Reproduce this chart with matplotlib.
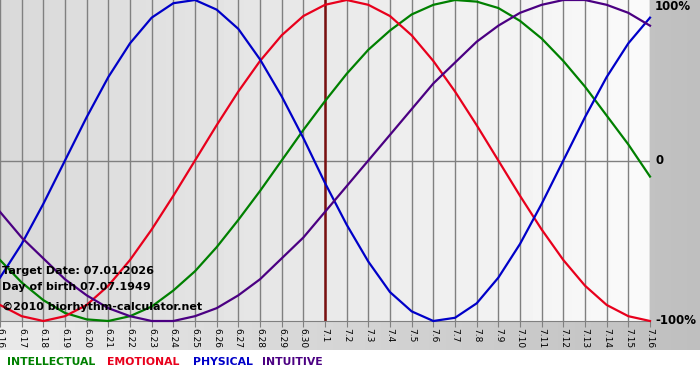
import numpy as np
import matplotlib
matplotlib.use("Agg")
import matplotlib.pyplot as plt

# day labels along the bottom axis
dates = ["6.16", "6.17", "6.18", "6.19", "6.20", "6.21", "6.22", "6.23", "6.24",
         "6.25", "6.26", "6.27", "6.28", "6.29", "6.30", "7.1", "7.2", "7.3",
         "7.4", "7.5", "7.6", "7.7", "7.8", "7.9", "7.10", "7.11", "7.12",
         "7.13", "7.14", "7.15", "7.16"]
target_day = "7.1"

# values per day (-1 .. 1)
intellectual = [-0.62, -0.76, -0.87, -0.95, -0.99, -1.00, -0.97, -0.91, -0.81,
                -0.69, -0.54, -0.37, -0.19, 0.00, 0.19, 0.37, 0.54, 0.69,
                0.81, 0.91, 0.97, 1.00, 0.99, 0.95, 0.87, 0.76, 0.62,
                0.46, 0.28, 0.10, -0.10]
emotional = [-0.90, -0.97, -1.00, -0.97, -0.90, -0.78, -0.62, -0.43, -0.22,
             0.00, 0.22, 0.43, 0.62, 0.78, 0.90, 0.97, 1.00, 0.97,
             0.90, 0.78, 0.62, 0.43, 0.22, 0.00, -0.22, -0.43, -0.62,
             -0.78, -0.90, -0.97, -1.00]
physical = [-0.73, -0.52, -0.27, 0.00, 0.27, 0.52, 0.73, 0.89, 0.98,
            1.00, 0.94, 0.82, 0.63, 0.40, 0.14, -0.14, -0.40, -0.63,
            -0.82, -0.94, -1.00, -0.98, -0.89, -0.73, -0.52, -0.27, 0.00,
            0.27, 0.52, 0.73, 0.89]
intuitive = [-0.32, -0.48, -0.61, -0.74, -0.84, -0.92, -0.97, -1.00, -1.00,
             -0.97, -0.92, -0.84, -0.74, -0.61, -0.48, -0.32, -0.16, 0.00,
             0.16, 0.32, 0.48, 0.61, 0.74, 0.84, 0.92, 0.97, 1.00,
             1.00, 0.97, 0.92, 0.84]

series = [
    ("INTELLECTUAL", intellectual, "#008000"),
    ("EMOTIONAL", emotional, "#e8001c"),
    ("PHYSICAL", physical, "#0000c8"),
    ("INTUITIVE", intuitive, "#4b0082"),
]

W, H = 700, 380
fig = plt.figure(figsize=(W / 100, H / 100), dpi=100)

# figure background: grey gradient with a white strip at the bottom
bg = fig.add_axes([0, 0, 1, 1])
bg.set_axis_off()
shade = np.linspace(0.92, 0.75, W)
img = np.ones((H, W, 3))
img[:350, :, :] = shade[None, :, None]
bg.imshow(img, extent=[0, 1, 0, 1], aspect="auto", zorder=0)
bg.set_xlim(0, 1)
bg.set_ylim(0, 1)

x = np.arange(len(dates))
ax = fig.add_axes([0, 59 / H, 650 / W, 321 / H])
ax.set_xlim(0, len(dates) - 1)
ax.set_ylim(-1, 1)

# plot area gradient
pshade = np.linspace(0.85, 0.98, 200)
ax.imshow(np.tile(pshade, (2, 1)), cmap="gray", vmin=0, vmax=1,
          extent=[0, len(dates) - 1, -1, 1], aspect="auto", zorder=0)

for xi in x:
    ax.axvline(xi, color="#808080", lw=1, zorder=1)
ax.axhline(0, color="#808080", lw=1, zorder=1)
ax.axvline(dates.index(target_day), color="#7a1010", lw=1.8, zorder=2)

for name, vals, col in series:
    ax.plot(x, vals, color=col, lw=1.6, zorder=3, clip_on=False)

for s in ["top", "left", "right"]:
    ax.spines[s].set_visible(False)
ax.spines["bottom"].set_color("#808080")
ax.set_yticks([])
ax.set_xticks(x)
ax.set_xticklabels(dates, rotation=270, fontsize=6.5)
ax.tick_params(axis="x", length=4, color="#808080", pad=1)

# right side percent labels
fig.text(655 / W, 1 - 7 / H, "100%", fontsize=8.5, fontweight="bold", va="center")
fig.text(655 / W, 1 - 161 / H, "0", fontsize=8.5, fontweight="bold", va="center")
fig.text(655 / W, 1 - 321 / H, "-100%", fontsize=8.5, fontweight="bold", va="center")

# info text
fig.text(2 / W, 1 - 271 / H, "Target Date: 07.01.2026", fontsize=8,
         fontweight="bold", va="center", zorder=5)
fig.text(2 / W, 1 - 287 / H, "Day of birth 07.07.1949", fontsize=8,
         fontweight="bold", va="center", zorder=5)
fig.text(2 / W, 1 - 307 / H, "\u00a92010 biorhythm-calculator.net", fontsize=8,
         fontweight="bold", va="center", zorder=5)

# legend words
legend_x = [7, 107, 193, 262]
for (name, vals, col), lx in zip(series, legend_x):
    fig.text(lx / W, 1 - 362 / H, name, fontsize=7.8, fontweight="semibold",
             color=col, va="center")

fig.savefig("out.png", dpi=100)
